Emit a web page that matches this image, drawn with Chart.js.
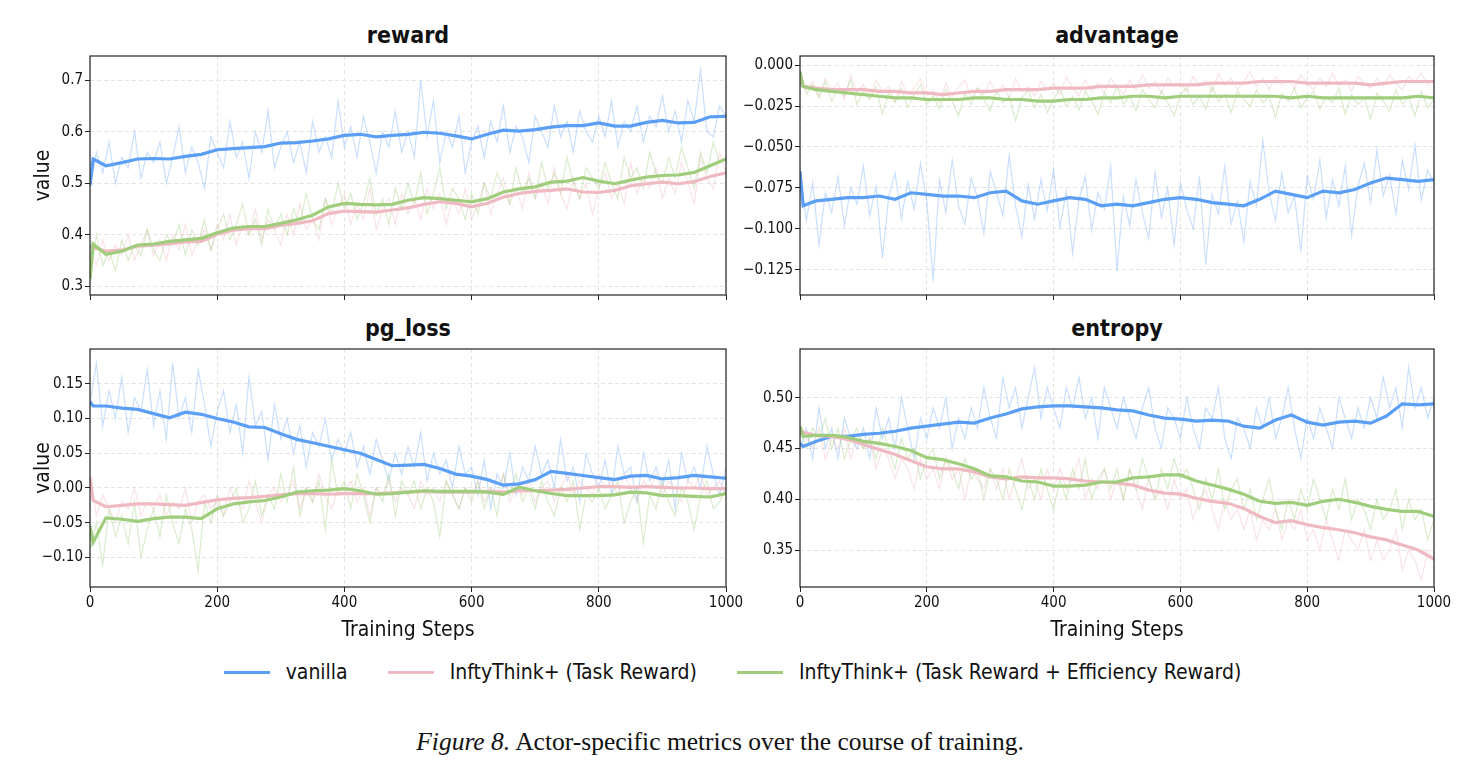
<!DOCTYPE html>
<html>
<head>
<meta charset="utf-8">
<script src="https://cdn.jsdelivr.net/npm/chart.js@4.4.0/dist/chart.umd.min.js"></script>
<style>
body { margin: 0; background: #fff; width: 1465px; height: 771px; position: relative; overflow: hidden;
       font-family: 'Liberation Sans Narrow', 'DejaVu Sans Condensed', 'Roboto', sans-serif; color: #111; }
canvas { position: absolute; }
.ttl { position: absolute; width: 400px; text-align: center; font-weight: bold; font-size: 23px; }
#legend { position: absolute; left: 0; top: 660px; width: 1465px; display: flex; justify-content: center; align-items: center; font-size: 21px; }
.item { display: flex; align-items: center; margin: 0 20px; }
.swatch { width: 46px; height: 3px; margin-right: 16px; }
#caption { position: absolute; left: 0; top: 727px; width: 1440px; text-align: center; font-family: 'Liberation Serif', 'DejaVu Serif', serif; font-size: 25.5px; }
</style>
</head>
<body>
<div class="ttl" style="left:208px;top:22px">reward</div>
<div class="ttl" style="left:917px;top:22px">advantage</div>
<div class="ttl" style="left:208px;top:315px">pg_loss</div>
<div class="ttl" style="left:917px;top:315px">entropy</div>

<canvas id="c1" width="751" height="265" style="left:0;top:45px"></canvas>
<canvas id="c3" width="751" height="309" style="left:0;top:338px"></canvas>
<canvas id="c2" width="724" height="265" style="left:735px;top:45px"></canvas>
<canvas id="c4" width="724" height="309" style="left:735px;top:338px"></canvas>

<div id="legend">
  <div class="item"><div class="swatch" style="background:#5b9ef6"></div>vanilla</div>
  <div class="item"><div class="swatch" style="background:#efb9c1"></div>InftyThink+ (Task Reward)</div>
  <div class="item"><div class="swatch" style="background:#9fcd7c"></div>InftyThink+ (Task Reward + Efficiency Reward)</div>
</div>
<div id="caption"><i>Figure 8.</i> Actor-specific metrics over the course of training.</div>

<script>
// training steps
const rawSteps = [0,10,20,30,40,50,60,70,80,90,100,110,120,130,140,150,160,170,180,190,200,
  210,220,230,240,250,260,270,280,290,300,310,320,330,340,350,360,370,380,390,400,
  410,420,430,440,450,460,470,480,490,500,510,520,530,540,550,560,570,580,590,600,
  610,620,630,640,650,660,670,680,690,700,710,720,730,740,750,760,770,780,790,800,
  810,820,830,840,850,860,870,880,890,900,910,920,930,940,950,960,970,980,990,1000];
const smoothSteps = [0,5,25,50,75,100,125,150,175,200,225,250,275,300,325,350,375,400,425,450,475,
  500,525,550,575,600,625,650,675,700,725,750,775,800,825,850,875,900,925,950,975,1000];
const xTicks = [0,200,400,600,800,1000];

// reward
const rewardVanillaRaw = [0.49,0.56,0.52,0.58,0.50,0.55,0.53,0.60,0.51,0.56,0.54,
  0.58,0.50,0.55,0.61,0.52,0.57,0.54,0.49,0.59,0.56,
  0.53,0.62,0.55,0.58,0.51,0.60,0.56,0.64,0.53,0.57,
  0.60,0.54,0.58,0.52,0.62,0.56,0.59,0.55,0.66,0.57,
  0.61,0.55,0.63,0.58,0.52,0.60,0.57,0.64,0.56,0.60,
  0.55,0.70,0.59,0.66,0.54,0.60,0.57,0.63,0.52,0.58,
  0.61,0.55,0.62,0.58,0.65,0.56,0.61,0.59,0.54,0.63,
  0.60,0.57,0.65,0.59,0.62,0.56,0.64,0.60,0.58,0.63,
  0.59,0.66,0.57,0.62,0.60,0.65,0.58,0.63,0.61,0.67,
  0.60,0.64,0.58,0.66,0.62,0.72,0.60,0.59,0.65,0.63];
const rewardTaskRaw = [0.37,0.34,0.39,0.35,0.38,0.36,0.40,0.35,0.38,0.41,0.36,
  0.39,0.35,0.40,0.37,0.42,0.36,0.39,0.41,0.37,0.42,
  0.39,0.44,0.38,0.42,0.40,0.45,0.39,0.43,0.41,0.38,
  0.44,0.40,0.46,0.41,0.43,0.39,0.47,0.42,0.45,0.48,
  0.42,0.46,0.43,0.49,0.41,0.45,0.47,0.42,0.48,0.44,
  0.47,0.43,0.49,0.45,0.48,0.42,0.47,0.44,0.49,0.43,
  0.46,0.50,0.44,0.48,0.51,0.46,0.49,0.45,0.52,0.47,
  0.50,0.46,0.53,0.48,0.45,0.51,0.47,0.50,0.44,0.49,
  0.52,0.47,0.50,0.46,0.54,0.48,0.51,0.49,0.53,0.47,
  0.51,0.48,0.54,0.50,0.46,0.55,0.51,0.49,0.56,0.52];
const rewardEffRaw = [0.31,0.40,0.34,0.37,0.33,0.39,0.35,0.38,0.36,0.41,0.37,
  0.35,0.40,0.38,0.42,0.36,0.41,0.38,0.43,0.37,0.41,
  0.44,0.39,0.42,0.46,0.40,0.43,0.38,0.45,0.41,0.44,
  0.40,0.45,0.42,0.48,0.43,0.41,0.47,0.44,0.50,0.45,
  0.48,0.43,0.46,0.51,0.44,0.47,0.42,0.49,0.45,0.50,
  0.46,0.52,0.44,0.48,0.53,0.45,0.49,0.47,0.43,0.48,
  0.44,0.50,0.47,0.52,0.49,0.46,0.53,0.48,0.51,0.47,
  0.54,0.49,0.52,0.48,0.55,0.50,0.47,0.53,0.51,0.49,
  0.54,0.50,0.47,0.55,0.51,0.53,0.49,0.56,0.52,0.50,
  0.55,0.51,0.57,0.53,0.49,0.56,0.52,0.58,0.54,0.55];
const rewardVanilla = [0.496,0.547,0.534,0.540,0.547,0.548,0.547,0.552,0.556,0.565,0.567,0.569,0.571,0.578,0.579,0.582,0.586,0.593,0.595,0.590,0.593,
  0.595,0.599,0.597,0.592,0.586,0.595,0.603,0.601,0.604,0.609,0.612,0.612,0.617,0.611,0.611,0.618,0.622,0.617,0.618,0.629,0.630];
const rewardTask = [0.380,0.375,0.368,0.370,0.378,0.380,0.382,0.386,0.387,0.401,0.409,0.412,0.412,0.418,0.422,0.427,0.441,0.446,0.445,0.444,0.448,
  0.452,0.459,0.464,0.461,0.454,0.461,0.473,0.480,0.484,0.486,0.489,0.483,0.482,0.486,0.495,0.499,0.502,0.499,0.503,0.513,0.520];
const rewardEff = [0.314,0.382,0.362,0.368,0.380,0.382,0.387,0.390,0.393,0.404,0.413,0.416,0.416,0.422,0.429,0.438,0.454,0.461,0.459,0.458,0.459,
  0.467,0.472,0.470,0.467,0.464,0.470,0.483,0.489,0.493,0.502,0.504,0.511,0.504,0.499,0.506,0.512,0.515,0.516,0.521,0.534,0.547];
const rewardTicks = [0.3,0.4,0.5,0.6,0.7];

// advantage
const advVanillaRaw = [-0.066,-0.095,-0.072,-0.110,-0.078,-0.090,-0.068,-0.098,-0.075,-0.085,-0.062,
  -0.092,-0.074,-0.118,-0.080,-0.066,-0.094,-0.071,-0.088,-0.060,-0.083,
  -0.132,-0.070,-0.090,-0.058,-0.086,-0.097,-0.069,-0.081,-0.103,-0.065,
  -0.078,-0.092,-0.055,-0.086,-0.105,-0.073,-0.094,-0.070,-0.089,-0.064,
  -0.099,-0.077,-0.115,-0.082,-0.068,-0.101,-0.078,-0.088,-0.062,-0.126,
  -0.080,-0.098,-0.070,-0.090,-0.106,-0.066,-0.093,-0.075,-0.110,-0.072,
  -0.088,-0.100,-0.068,-0.122,-0.079,-0.091,-0.062,-0.097,-0.083,-0.108,
  -0.071,-0.086,-0.046,-0.078,-0.095,-0.066,-0.090,-0.080,-0.114,-0.068,
  -0.082,-0.058,-0.093,-0.070,-0.086,-0.062,-0.104,-0.074,-0.060,-0.084,
  -0.052,-0.080,-0.067,-0.091,-0.058,-0.076,-0.049,-0.083,-0.064,-0.072];
const advTaskRaw = [-0.004,-0.016,-0.010,-0.019,-0.008,-0.015,-0.011,-0.021,-0.006,-0.017,-0.012,
  -0.020,-0.009,-0.016,-0.013,-0.022,-0.010,-0.018,-0.014,-0.008,-0.019,
  -0.015,-0.023,-0.011,-0.019,-0.013,-0.009,-0.020,-0.014,-0.018,-0.010,
  -0.017,-0.012,-0.020,-0.008,-0.016,-0.013,-0.019,-0.010,-0.015,-0.011,
  -0.018,-0.007,-0.014,-0.019,-0.009,-0.016,-0.011,-0.017,-0.008,-0.013,
  -0.018,-0.009,-0.015,-0.006,-0.014,-0.010,-0.017,-0.008,-0.013,-0.011,
  -0.016,-0.007,-0.013,-0.009,-0.016,-0.005,-0.012,-0.008,-0.015,-0.010,
  -0.004,-0.013,-0.008,-0.015,-0.007,-0.012,-0.009,-0.014,-0.006,-0.011,
  -0.015,-0.008,-0.013,-0.005,-0.012,-0.009,-0.016,-0.007,-0.011,-0.014,
  -0.008,-0.013,-0.006,-0.011,-0.015,-0.007,-0.010,-0.005,-0.012,-0.009];
const advEffRaw = [-0.003,-0.018,-0.012,-0.020,-0.010,-0.022,-0.014,-0.019,-0.009,-0.024,-0.016,
  -0.021,-0.013,-0.030,-0.017,-0.023,-0.014,-0.026,-0.018,-0.012,-0.024,
  -0.019,-0.027,-0.015,-0.022,-0.031,-0.017,-0.024,-0.014,-0.021,-0.028,
  -0.016,-0.023,-0.019,-0.034,-0.020,-0.015,-0.026,-0.018,-0.029,-0.021,
  -0.014,-0.025,-0.019,-0.027,-0.016,-0.022,-0.030,-0.017,-0.023,-0.013,
  -0.024,-0.019,-0.028,-0.015,-0.021,-0.026,-0.016,-0.023,-0.031,-0.018,
  -0.014,-0.024,-0.019,-0.027,-0.013,-0.022,-0.018,-0.029,-0.016,-0.021,
  -0.025,-0.015,-0.023,-0.019,-0.032,-0.017,-0.022,-0.014,-0.026,-0.020,
  -0.016,-0.027,-0.019,-0.023,-0.014,-0.030,-0.018,-0.024,-0.020,-0.033,
  -0.017,-0.022,-0.028,-0.015,-0.024,-0.019,-0.031,-0.016,-0.026,-0.021];
const advVanilla = [-0.065,-0.086,-0.083,-0.082,-0.081,-0.081,-0.080,-0.082,-0.078,-0.079,-0.080,-0.080,-0.081,-0.078,-0.077,-0.083,-0.085,-0.083,-0.081,-0.082,-0.086,
  -0.085,-0.086,-0.084,-0.082,-0.081,-0.082,-0.084,-0.085,-0.086,-0.082,-0.077,-0.079,-0.081,-0.077,-0.078,-0.076,-0.072,-0.069,-0.070,-0.071,-0.070];
const advTask = [-0.010,-0.013,-0.014,-0.015,-0.015,-0.015,-0.016,-0.016,-0.017,-0.017,-0.018,-0.017,-0.016,-0.016,-0.015,-0.015,-0.015,-0.014,-0.014,-0.014,-0.013,
  -0.013,-0.013,-0.012,-0.012,-0.012,-0.012,-0.011,-0.011,-0.011,-0.010,-0.010,-0.010,-0.011,-0.011,-0.011,-0.011,-0.012,-0.011,-0.010,-0.010,-0.010];
const advEff = [-0.004,-0.013,-0.015,-0.016,-0.017,-0.018,-0.019,-0.020,-0.020,-0.021,-0.021,-0.021,-0.020,-0.020,-0.021,-0.021,-0.022,-0.022,-0.021,-0.021,-0.020,
  -0.020,-0.019,-0.019,-0.020,-0.019,-0.019,-0.019,-0.019,-0.019,-0.019,-0.019,-0.020,-0.019,-0.020,-0.020,-0.020,-0.020,-0.020,-0.020,-0.019,-0.020];
const advTicks = [-0.125,-0.1,-0.075,-0.05,-0.025,0];

// pg_loss
const pgVanillaRaw = [0.12,0.18,0.09,0.14,0.10,0.16,0.08,0.13,0.11,0.17,0.09,
  0.14,0.07,0.18,0.10,0.13,0.08,0.17,0.12,0.06,0.11,
  0.14,0.08,0.12,0.05,0.16,0.09,0.11,0.04,0.12,0.07,
  0.10,0.05,0.09,0.03,0.08,0.06,0.10,0.04,0.07,0.05,
  0.08,0.03,0.06,0.02,0.07,0.04,0.01,0.05,0.02,0.06,
  0.03,0.08,0.01,0.05,0.02,0.04,0.00,0.06,0.02,0.03,
  -0.01,0.04,-0.03,0.02,0.00,0.05,-0.01,0.03,0.01,0.06,
  0.02,0.04,0.00,0.07,0.01,0.03,-0.02,0.05,0.02,0.00,
  0.04,-0.01,0.06,0.02,0.03,-0.02,0.05,0.01,0.03,0.00,
  0.04,-0.03,0.05,0.01,0.03,0.00,0.06,0.02,-0.01,0.03];
const pgTaskRaw = [0.02,-0.04,-0.01,-0.03,-0.05,-0.02,-0.03,0.00,-0.04,-0.02,-0.03,
  -0.01,-0.04,-0.02,-0.03,0.00,-0.05,-0.02,-0.01,-0.03,-0.02,
  -0.04,0.00,-0.02,-0.03,0.01,-0.02,-0.05,-0.01,0.00,-0.02,
  -0.01,0.01,-0.03,0.00,-0.02,0.02,-0.01,-0.03,0.00,-0.01,
  0.01,-0.02,0.00,-0.04,0.00,-0.01,0.01,-0.02,0.00,-0.01,
  -0.03,0.01,-0.01,0.00,-0.02,0.01,-0.01,-0.03,0.00,-0.01,
  0.01,-0.02,0.00,-0.01,0.02,-0.02,0.00,-0.01,0.01,-0.02,
  0.00,0.01,-0.02,0.00,0.02,-0.01,0.01,0.00,-0.01,0.02,
  0.00,0.01,-0.01,0.02,0.00,-0.02,0.01,0.00,0.02,-0.01,
  0.01,0.00,-0.02,0.01,0.00,0.02,-0.01,0.00,0.01,-0.01];
const pgEffRaw = [-0.09,-0.05,-0.11,-0.03,-0.07,-0.04,-0.08,-0.02,-0.10,-0.06,-0.03,
  -0.07,-0.01,-0.05,-0.08,-0.03,-0.06,-0.12,-0.02,-0.05,-0.01,
  -0.04,-0.02,0.00,-0.05,-0.03,0.01,-0.04,-0.01,-0.03,0.02,
  -0.02,0.03,-0.04,0.00,-0.02,0.01,-0.06,0.04,-0.01,0.01,
  -0.03,0.02,-0.01,-0.05,0.00,-0.02,0.02,-0.04,0.01,-0.01,
  0.01,-0.03,0.00,-0.02,-0.07,0.01,-0.01,-0.03,0.00,-0.02,
  0.01,-0.03,0.00,-0.04,0.02,-0.01,0.02,-0.02,0.00,-0.03,
  0.01,-0.02,-0.04,0.00,-0.02,0.01,-0.06,-0.01,-0.02,0.00,
  -0.03,-0.01,0.01,-0.05,-0.02,0.00,-0.08,-0.01,-0.03,0.01,
  -0.02,-0.04,0.00,-0.02,-0.06,-0.01,0.01,-0.03,-0.02,0.00];
const pgVanilla = [0.124,0.118,0.118,0.115,0.113,0.107,0.101,0.109,0.106,0.100,0.095,0.088,0.087,0.078,0.070,0.065,0.060,0.055,0.050,0.041,0.032,
  0.033,0.034,0.028,0.020,0.017,0.012,0.004,0.006,0.012,0.024,0.021,0.018,0.015,0.012,0.017,0.018,0.013,0.015,0.018,0.016,0.014];
const pgTask = [0.015,-0.018,-0.027,-0.025,-0.023,-0.023,-0.024,-0.025,-0.021,-0.017,-0.015,-0.014,-0.012,-0.010,-0.008,-0.008,-0.009,-0.008,-0.008,-0.008,-0.007,
  -0.006,-0.005,-0.006,-0.006,-0.006,-0.005,-0.006,-0.004,-0.004,-0.003,-0.002,0.000,0.002,0.002,0.001,0.002,0.001,0.000,0.000,-0.001,-0.001];
const pgEff = [-0.055,-0.078,-0.043,-0.045,-0.048,-0.044,-0.042,-0.042,-0.044,-0.030,-0.023,-0.020,-0.018,-0.013,-0.006,-0.004,-0.003,-0.001,-0.004,-0.009,-0.008,
  -0.006,-0.004,-0.005,-0.005,-0.005,-0.006,-0.009,0.001,-0.004,-0.008,-0.011,-0.011,-0.011,-0.010,-0.006,-0.007,-0.011,-0.011,-0.012,-0.013,-0.008];
const pgTicks = [-0.1,-0.05,0,0.05,0.1,0.15];

// entropy
const entVanillaRaw = [0.45,0.47,0.44,0.49,0.45,0.47,0.44,0.48,0.46,0.45,0.47,
  0.44,0.49,0.46,0.48,0.45,0.50,0.47,0.44,0.48,0.46,
  0.49,0.47,0.50,0.45,0.48,0.46,0.49,0.47,0.51,0.48,
  0.46,0.52,0.49,0.51,0.47,0.50,0.53,0.48,0.51,0.49,
  0.47,0.51,0.49,0.52,0.48,0.50,0.46,0.51,0.49,0.47,
  0.50,0.48,0.46,0.49,0.51,0.47,0.45,0.49,0.48,0.46,
  0.50,0.47,0.45,0.49,0.48,0.51,0.46,0.44,0.48,0.47,
  0.45,0.49,0.47,0.50,0.46,0.48,0.51,0.47,0.44,0.48,
  0.46,0.49,0.47,0.45,0.50,0.48,0.46,0.49,0.47,0.50,
  0.48,0.52,0.49,0.51,0.47,0.53,0.49,0.51,0.48,0.50];
const entTaskRaw = [0.47,0.46,0.45,0.47,0.44,0.46,0.45,0.47,0.44,0.46,0.45,
  0.46,0.43,0.45,0.44,0.42,0.44,0.43,0.41,0.44,0.42,
  0.43,0.41,0.44,0.42,0.43,0.40,0.43,0.42,0.41,0.43,
  0.41,0.43,0.40,0.42,0.44,0.41,0.42,0.40,0.43,0.41,
  0.43,0.41,0.42,0.44,0.40,0.42,0.41,0.43,0.40,0.42,
  0.40,0.43,0.41,0.39,0.42,0.40,0.41,0.39,0.42,0.40,
  0.41,0.38,0.40,0.41,0.39,0.37,0.40,0.38,0.39,0.37,
  0.39,0.36,0.38,0.37,0.39,0.36,0.38,0.37,0.39,0.36,
  0.37,0.35,0.38,0.36,0.34,0.37,0.36,0.35,0.37,0.34,
  0.36,0.34,0.35,0.37,0.33,0.35,0.34,0.32,0.35,0.34];
const entEffRaw = [0.47,0.45,0.47,0.46,0.48,0.45,0.47,0.44,0.46,0.47,0.45,
  0.46,0.44,0.47,0.45,0.43,0.46,0.44,0.45,0.42,0.44,
  0.45,0.42,0.44,0.43,0.41,0.44,0.42,0.43,0.40,0.43,
  0.42,0.40,0.43,0.41,0.39,0.42,0.40,0.43,0.41,0.39,
  0.42,0.40,0.43,0.41,0.44,0.40,0.42,0.43,0.41,0.43,
  0.40,0.43,0.41,0.44,0.42,0.40,0.43,0.41,0.44,0.42,
  0.43,0.41,0.39,0.42,0.40,0.43,0.39,0.41,0.42,0.39,
  0.41,0.38,0.40,0.42,0.39,0.37,0.40,0.38,0.41,0.39,
  0.42,0.40,0.38,0.41,0.39,0.42,0.38,0.40,0.39,0.37,
  0.40,0.38,0.39,0.41,0.37,0.40,0.38,0.39,0.36,0.38];
const entVanilla = [0.455,0.452,0.457,0.462,0.462,0.464,0.465,0.467,0.470,0.472,0.474,0.476,0.475,0.480,0.484,0.489,0.491,0.492,0.492,0.491,0.490,
  0.488,0.487,0.483,0.480,0.479,0.477,0.478,0.477,0.472,0.470,0.478,0.483,0.476,0.473,0.476,0.477,0.475,0.482,0.494,0.493,0.494];
const entTask = [0.470,0.466,0.463,0.462,0.459,0.454,0.449,0.444,0.438,0.432,0.430,0.430,0.427,0.422,0.420,0.422,0.421,0.421,0.420,0.418,0.417,
  0.416,0.414,0.409,0.406,0.405,0.401,0.398,0.396,0.391,0.383,0.377,0.379,0.375,0.372,0.370,0.367,0.363,0.360,0.355,0.350,0.341];
const entEff = [0.472,0.462,0.463,0.463,0.461,0.457,0.455,0.452,0.448,0.441,0.439,0.435,0.430,0.423,0.422,0.418,0.417,0.413,0.413,0.414,0.417,
  0.417,0.421,0.422,0.424,0.424,0.418,0.414,0.410,0.405,0.398,0.396,0.397,0.394,0.398,0.400,0.397,0.393,0.390,0.388,0.388,0.383];
const entTicks = [0.35,0.4,0.45,0.5];

const FONT = "'Liberation Sans Narrow', 'DejaVu Sans Condensed', 'Roboto', sans-serif";
Chart.defaults.font.family = FONT;
Chart.defaults.color = '#111';

const BLUE = '#5b9ef6', PINK = '#efb9c1', GREEN = '#9fcd7c';
const BLUE_RAW = 'rgba(91,158,246,0.33)', PINK_RAW = 'rgba(239,185,193,0.4)', GREEN_RAW = 'rgba(159,205,124,0.38)';

function pts(xs, ys) {
    return xs.map(function (x, i) { return { x: x, y: ys[i] }; });
}

function line(xs, ys, color, w) {
    return { data: pts(xs, ys), borderColor: color, borderWidth: w, pointRadius: 0, tension: 0, fill: false };
}

// matplotlib style box around the plot area
const framePlugin = {
    id: 'frame',
    afterDraw: function (chart) {
        const a = chart.chartArea, c = chart.ctx;
        c.save();
        c.strokeStyle = '#222';
        c.lineWidth = 1.2;
        c.strokeRect(a.left, a.top, a.right - a.left, a.bottom - a.top);
        c.restore();
    }
};

function minus(s) { return s.replace('-', '\u2212'); }

function makeChart(id, o) {
    // first dataset is drawn on top
    const datasets = [
        line(smoothSteps, o.eff, GREEN, 3.2),
        line(smoothSteps, o.task, PINK, 3.2),
        line(smoothSteps, o.vanilla, BLUE, 3.2),
        line(rawSteps, o.effRaw, GREEN_RAW, 1.2),
        line(rawSteps, o.taskRaw, PINK_RAW, 1.2),
        line(rawSteps, o.vanillaRaw, BLUE_RAW, 1.2)
    ];
    const grid = { color: '#e4e4e4', lineWidth: 1, drawTicks: true, tickLength: 5, tickColor: '#222', tickWidth: 1 };
    return new Chart(document.getElementById(id), {
        type: 'line',
        data: { datasets: datasets },
        options: {
            responsive: false,
            animation: false,
            devicePixelRatio: 1,
            layout: { padding: { left: o.padLeft, right: 25, top: 7, bottom: 0 } },
            plugins: { legend: { display: false }, tooltip: { enabled: false } },
            scales: {
                x: {
                    type: 'linear', min: 0, max: 1000,
                    afterBuildTicks: function (s) { s.ticks = xTicks.map(function (v) { return { value: v }; }); },
                    afterFit: function (s) { s.height = o.xHeight; },
                    ticks: { display: o.showX, color: '#111', font: { size: 15 }, padding: 2, maxRotation: 0, autoSkip: false,
                             callback: function (v) { return String(v); } },
                    grid: grid,
                    border: { display: false, dash: [4, 3] },
                    title: { display: o.showX, text: 'Training Steps', font: { size: 21 }, color: '#111', padding: { top: 4, bottom: 4 } }
                },
                y: {
                    type: 'linear', min: o.min, max: o.max,
                    afterBuildTicks: function (s) { s.ticks = o.ticks.map(function (v) { return { value: v }; }); },
                    afterFit: function (s) { s.width = o.yWidth; },
                    ticks: { color: '#111', font: { size: 15 }, padding: 2, autoSkip: false,
                             callback: function (v) { return minus(Number(v).toFixed(o.dec)); } },
                    grid: grid,
                    border: { display: false, dash: [4, 3] },
                    title: { display: o.yTitle, text: 'value', font: { size: 21 }, color: '#111', padding: { top: 4, bottom: 4 } }
                }
            }
        },
        plugins: [framePlugin]
    });
}

makeChart('c1', { vanilla: rewardVanilla, task: rewardTask, eff: rewardEff,
    vanillaRaw: rewardVanillaRaw, taskRaw: rewardTaskRaw, effRaw: rewardEffRaw,
    min: 0.283, max: 0.747, ticks: rewardTicks, dec: 1,
    padLeft: 27, yWidth: 63, xHeight: 15, showX: false, yTitle: true });

makeChart('c2', { vanilla: advVanilla, task: advTask, eff: advEff,
    vanillaRaw: advVanillaRaw, taskRaw: advTaskRaw, effRaw: advEffRaw,
    min: -0.1405, max: 0.0056, ticks: advTicks, dec: 3,
    padLeft: 0, yWidth: 65, xHeight: 15, showX: false, yTitle: false });

makeChart('c3', { vanilla: pgVanilla, task: pgTask, eff: pgEff,
    vanillaRaw: pgVanillaRaw, taskRaw: pgTaskRaw, effRaw: pgEffRaw,
    min: -0.1425, max: 0.2, ticks: pgTicks, dec: 2,
    padLeft: 27, yWidth: 63, xHeight: 60, showX: true, yTitle: true });

makeChart('c4', { vanilla: entVanilla, task: entTask, eff: entEff,
    vanillaRaw: entVanillaRaw, taskRaw: entTaskRaw, effRaw: entEffRaw,
    min: 0.3136, max: 0.548, ticks: entTicks, dec: 2,
    padLeft: 0, yWidth: 65, xHeight: 60, showX: true, yTitle: false });
</script>
</body>
</html>
